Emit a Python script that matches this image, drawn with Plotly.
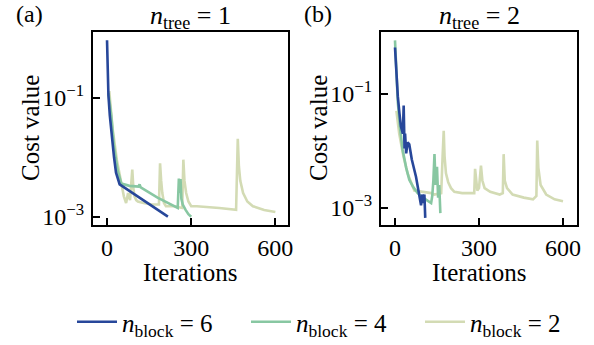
import plotly.graph_objects as go

# ---------------- data ----------------
# Panel (a): n_tree = 1
a_b6_x = [0, 5, 10, 18, 25, 32, 45, 217]
a_b6_y = [0.93, 0.11, 0.05, 0.02, 0.01, 0.0055, 0.0035, 0.001]

a_b4_x = [5, 15, 25, 38, 51, 80, 112, 116, 120, 180, 252, 256, 259, 262, 265, 270, 280, 290, 300]
a_b4_y = [0.12, 0.05, 0.015, 0.006, 0.0036, 0.0033, 0.0032, 0.0035, 0.0031, 0.0021, 0.0014,
          0.0044, 0.0025, 0.0043, 0.002, 0.0016, 0.0013, 0.0011, 0.001]

a_b2_x = [8, 20, 35, 50, 60, 68, 75, 82, 88, 90, 94, 98, 104, 110, 130, 160, 185, 189, 193, 197,
          203, 210, 240, 268, 272, 276, 282, 290, 300, 320, 400, 460, 466, 470, 475, 485, 500, 520,
          560, 600]
a_b2_y = [0.13, 0.03, 0.009, 0.004, 0.0022, 0.0017, 0.0025, 0.0019, 0.0045, 0.0062, 0.003, 0.0022,
          0.0019, 0.0018, 0.0017, 0.0016, 0.0016, 0.0079, 0.004, 0.0025, 0.0017, 0.0015, 0.0015,
          0.0014, 0.0091, 0.004, 0.0025, 0.0018, 0.0015, 0.0015, 0.0014, 0.0013, 0.0204, 0.007,
          0.004, 0.0025, 0.0018, 0.0015, 0.0013, 0.0012]

# Panel (b): n_tree = 2
b_b6_x = [0, 5, 10, 16, 21, 28, 31, 34, 36, 40, 45, 51, 60, 75, 88, 93, 97, 101, 105, 108]
b_b6_y = [0.65, 0.2, 0.091, 0.045, 0.027, 0.02, 0.062, 0.011, 0.02, 0.009, 0.014, 0.0129, 0.007,
          0.0035, 0.0015, 0.0011, 0.0017, 0.0012, 0.0017, 0.00066]

b_b4_x = [0, 5, 10, 18, 27, 40, 51, 65, 81, 100, 120, 129, 133, 137, 141, 145, 148, 150, 154, 158, 162]
b_b4_y = [0.87, 0.2, 0.072, 0.025, 0.0105, 0.005, 0.0031, 0.0023, 0.0018, 0.0015, 0.0013, 0.0012,
          0.0016, 0.003, 0.0087, 0.0025, 0.0045, 0.0052, 0.0015, 0.0025, 0.0008]

b_b2_x = [5, 15, 30, 45, 69, 100, 129, 140, 165, 170, 174, 177, 182, 190, 200, 212, 240, 270, 283,
          286, 290, 294, 300, 307, 312, 320, 340, 374, 385, 388, 392, 400, 420, 460, 493, 505, 508,
          512, 520, 540, 570, 600]
b_b2_y = [0.05, 0.02, 0.008, 0.004, 0.002, 0.0019, 0.0018, 0.0017, 0.0018, 0.008, 0.0224, 0.008,
          0.004, 0.0028, 0.0022, 0.0019, 0.0018, 0.0018, 0.0018, 0.0048, 0.0025, 0.002, 0.0022,
          0.0055, 0.003, 0.0022, 0.0019, 0.0017, 0.0018, 0.0087, 0.003, 0.0022, 0.0017, 0.0015,
          0.0014, 0.0016, 0.0151, 0.005, 0.0025, 0.0017, 0.0014, 0.0013]

x_ticks = [0, 300, 600]
y_ticks = [1e-3, 1e-1]
y_ticktext = ["10<sup>−3</sup>", "10<sup>−1</sup>"]
panel_titles = ["<i>n</i><sub>tree</sub> = 1", "<i>n</i><sub>tree</sub> = 2"]
panel_labels = ["(a)", "(b)"]
legend_names = ["<i>n</i><sub>block</sub> = 6", "<i>n</i><sub>block</sub> = 4",
                "<i>n</i><sub>block</sub> = 2"]

C6, C4, C2 = "#27479a", "#88c7a2", "#d3dbb4"
FONT = "Times New Roman, Liberation Serif, Times, serif"

fig = go.Figure()

def add(x, y, color, name, xa, ya, show, rank):
    fig.add_trace(go.Scatter(x=x, y=y, mode="lines", line=dict(color=color, width=2.6),
                             name=name, xaxis=xa, yaxis=ya, showlegend=show,
                             legendrank=rank, hoverinfo="skip"))

add(a_b2_x, a_b2_y, C2, legend_names[2], "x", "y", True, 3)
add(a_b4_x, a_b4_y, C4, legend_names[1], "x", "y", True, 2)
add(a_b6_x, a_b6_y, C6, legend_names[0], "x", "y", True, 1)
add(b_b2_x, b_b2_y, C2, legend_names[2], "x2", "y2", False, 3)
add(b_b4_x, b_b4_y, C4, legend_names[1], "x2", "y2", False, 2)
add(b_b6_x, b_b6_y, C6, legend_names[0], "x2", "y2", False, 1)

W, H = 594, 345
ydom = [1 - 225 / H, 1 - 32 / H]
axis_common = dict(showline=True, linecolor="black", linewidth=2, mirror=True,
                   ticks="inside", ticklen=7, tickwidth=1.5, tickcolor="black",
                   showgrid=False, zeroline=False, automargin=False,
                   tickfont=dict(family=FONT, size=24, color="black"))

fig.update_layout(
    width=W, height=H, margin=dict(l=0, r=0, t=0, b=0, autoexpand=False),
    paper_bgcolor="white", plot_bgcolor="white",
    font=dict(family=FONT, color="black"),
    xaxis=dict(domain=[93 / W, 288 / W], range=[-50, 645], tickvals=x_ticks, anchor="y",
               ticklabelstandoff=0, **axis_common),
    yaxis=dict(domain=ydom, type="log", range=[-3.14, 0.108], tickvals=y_ticks,
               ticktext=y_ticktext, anchor="x", ticklabelstandoff=2, **axis_common),
    xaxis2=dict(domain=[381 / W, 577 / W], range=[-50, 650], tickvals=x_ticks, anchor="y2",
                ticklabelstandoff=0, **axis_common),
    yaxis2=dict(domain=ydom, type="log", range=[-3.305, 0.086], tickvals=y_ticks,
                ticktext=y_ticktext, anchor="x2", ticklabelstandoff=2, **axis_common),
    legend=dict(orientation="h", x=72 / W, y=1 - 322 / H, xanchor="left", yanchor="middle",
                font=dict(family=FONT, size=25), entrywidth=119, entrywidthmode="pixels",
                bgcolor="rgba(0,0,0,0)", itemwidth=40),
    showlegend=True,
)

ann = []
for cx, t in zip([190 / W, 479 / W], panel_titles):
    ann.append(dict(text=t, x=cx, y=1 - 17 / H, xref="paper", yref="paper", showarrow=False,
                    font=dict(family=FONT, size=26), xanchor="center", yanchor="middle"))
for lx, t in zip([14 / W, 302 / W], panel_labels):
    ann.append(dict(text=t, x=lx, y=1 - 14 / H, xref="paper", yref="paper", showarrow=False,
                    font=dict(family=FONT, size=24), xanchor="left", yanchor="middle"))
for cx in [190 / W, 479 / W]:
    ann.append(dict(text="Iterations", x=cx, y=1 - 272 / H, xref="paper", yref="paper",
                    showarrow=False, font=dict(family=FONT, size=25), xanchor="center",
                    yanchor="middle"))
for cx in [30 / W, 318 / W]:
    ann.append(dict(text="Cost value", x=cx, y=1 - 128 / H, xref="paper", yref="paper",
                    showarrow=False, textangle=-90, font=dict(family=FONT, size=25),
                    xanchor="center", yanchor="middle"))
fig.update_layout(annotations=ann)

fig.write_html("out.html")
